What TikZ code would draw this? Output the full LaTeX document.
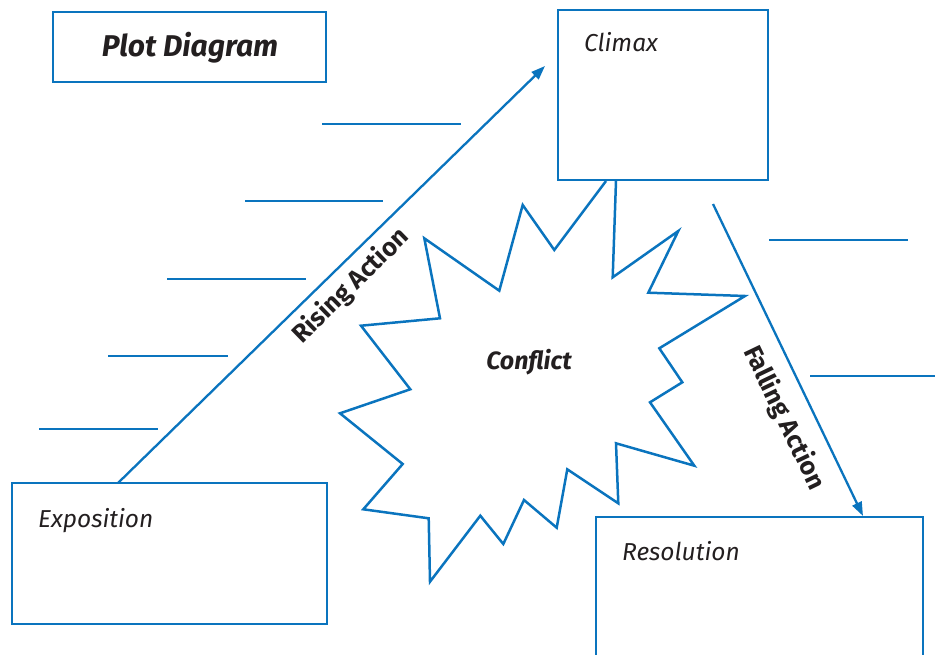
\documentclass[tikz,border=0pt]{standalone}
\usepackage{fontspec}
\setmainfont{Fira Sans}
\usetikzlibrary{arrows.meta}
\definecolor{plotblue}{RGB}{10,116,190}
\definecolor{inkgray}{RGB}{35,31,32}
\tikzset{
  frame/.style={draw=plotblue, line width=2.5pt, rectangle, inner sep=0pt},
  rule/.style={draw=plotblue, line width=2.3pt},
  arc/.style={draw=plotblue, line width=2.3pt, -{Triangle[length=14pt,width=10pt]}},
  burst/.style={draw=plotblue, line width=2.5pt, line join=miter},
  boxlabel/.style={text=inkgray, font=\fontsize{24.5}{28}\selectfont\itshape, anchor=base west, inner sep=0pt},
  arclabel/.style={text=inkgray, font=\fontsize{25.5}{29}\selectfont\bfseries, inner sep=0pt},
}
\begin{document}
\begin{tikzpicture}[x=1pt,y=-1pt]
\useasboundingbox (0,0) rectangle (935,655);
\begin{scope}
\clip (0,0) rectangle (935,655);

% title box
\node[frame, minimum width=273pt, minimum height=70pt] (title) at (189.5,47) {};
\node[text=inkgray, font=\fontsize{30}{34}\selectfont\bfseries\itshape, inner sep=0pt] (titletext) at (190,48) {Plot Diagram};

% the four stage boxes
\node[frame, minimum width=210pt, minimum height=170pt] (climax) at (663,95) {};
\node[boxlabel] (climaxtext) at (584,52) {Climax};
\node[frame, minimum width=315pt, minimum height=141pt] (expo) at (169.5,553.5) {};
\node[boxlabel] (expotext) at (38,527) {Exposition};
\node[frame, minimum width=327pt, minimum height=170pt] (reso) at (759.5,602) {};
\node[boxlabel] (resotext) at (622,560) {Resolution};

% blank writing lines
\draw[rule] (322,124) coordinate (la1) -- (461,124) coordinate (la2);
\draw[rule] (245,201) coordinate (lb1) -- (383,201) coordinate (lb2);
\draw[rule] (167,279) coordinate (lc1) -- (306,279) coordinate (lc2);
\draw[rule] (108,356) coordinate (ld1) -- (228,356) coordinate (ld2);
\draw[rule] (39,429) coordinate (le1) -- (158,429) coordinate (le2);
\draw[rule] (769,240) coordinate (lf1) -- (908,240) coordinate (lf2);
\draw[rule] (810,376) coordinate (lg1) -- (940,376) coordinate (lg2);

% rising and falling action arrows
\coordinate (riseStart) at (118,483);
\coordinate (riseEnd) at (545,66);
\draw[arc] (riseStart) -- (riseEnd);
\coordinate (fallStart) at (713,204);
\coordinate (fallEnd) at (863,516);
\draw[arc] (fallStart) -- (fallEnd);
\node[arclabel, rotate=44.3] (risetext) at (351,286) {Rising Action};
\node[arclabel, rotate=-64.3] (falltext) at (784,418) {Falling Action};

% conflict starburst hanging from the climax box
\draw[burst] (606,181) -- (554.3,250) -- (522.7,205) -- (499.3,290.7) -- (424.3,238.3)
  -- (440,318.3) -- (361,325.7) -- (410.3,389.3) -- (340,413.3) -- (402.7,464)
  -- (363.3,509.3) -- (428.7,518.3) -- (430,581.7) -- (480.3,515.7) -- (503.3,544)
  -- (524,500) -- (556.7,527.7) -- (567.3,469.3) -- (618.3,503.3) -- (616,443.3)
  -- (694.3,465.7) -- (650,402.3) -- (682.3,382.3) -- (659.3,348.3) -- (745,296)
  -- (648.3,292.7) -- (678.3,231) -- (612.7,277.3) -- (616,181);
\node[text=inkgray, font=\fontsize{25}{29}\selectfont\bfseries\itshape, inner sep=0pt] (conflict) at (529,362) {Conflict};
\end{scope}
\end{tikzpicture}
\end{document}
